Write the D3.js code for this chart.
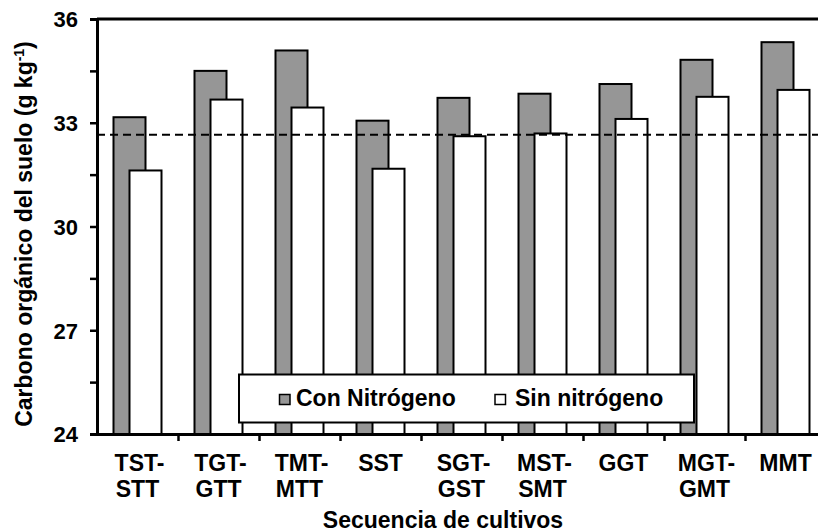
<!DOCTYPE html>
<html>
<head>
<meta charset="utf-8">
<script src="https://cdn.jsdelivr.net/npm/d3@7"></script>
<style>
  html, body { margin: 0; padding: 0; background: #fff; }
  svg { display: block; }
  text { font-family: "Liberation Sans", Arial, sans-serif; font-weight: bold; fill: #000; }
</style>
</head>
<body>
<script>
// ---- data ----
const categories = [["TST-", "STT"], ["TGT-", "GTT"], ["TMT-", "MTT"], ["SST"], ["SGT-", "GST"], ["MST-", "SMT"], ["GGT"], ["MGT-", "GMT"], ["MMT"]];
const conNitrogeno = [33.16, 34.50, 35.09, 33.06, 33.72, 33.84, 34.12, 34.82, 35.33];
const sinNitrogeno = [31.62, 33.67, 33.44, 31.67, 32.61, 32.69, 33.11, 33.75, 33.95];
const referenceLine = 32.65;
const yTickValues = [24, 27, 30, 33, 36];
const yMinorTicks = [25.5, 28.5, 31.5, 34.5];
const seriesNames = ["Con Nitrógeno", "Sin nitrógeno"];
const yTitle = "Carbono orgánico del suelo (g kg";
const xTitle = "Secuencia de cultivos";

// ---- layout ----
const W = 818, H = 531;
const mLeft = 97, mTop = 19, mBottom = 434, mRight = 826;
const grayFill = "#969696";

const svg = d3.select("body").append("svg").attr("width", W).attr("height", H);

const x = d3.scaleBand().domain(d3.range(categories.length)).range([mLeft, mRight]);
const y = d3.scaleLinear().domain([24, 36]).range([mBottom, mTop]);
const barW = 32, off = 8;

// bars
const g = svg.append("g");
g.selectAll("rect.con").data(conNitrogeno).join("rect")
  .attr("class", "con")
  .attr("x", (d, i) => x(i) + x.bandwidth() / 2 - off - barW / 2)
  .attr("y", d => y(d))
  .attr("width", barW)
  .attr("height", d => y(24) - y(d))
  .attr("fill", grayFill).attr("stroke", "#000").attr("stroke-width", 2);
g.selectAll("rect.sin").data(sinNitrogeno).join("rect")
  .attr("class", "sin")
  .attr("x", (d, i) => x(i) + x.bandwidth() / 2 + off - barW / 2)
  .attr("y", d => y(d))
  .attr("width", barW)
  .attr("height", d => y(24) - y(d))
  .attr("fill", "#fff").attr("stroke", "#000").attr("stroke-width", 2);

// dashed reference line
svg.append("line")
  .attr("x1", mLeft).attr("x2", mRight)
  .attr("y1", y(referenceLine)).attr("y2", y(referenceLine))
  .attr("stroke", "#000").attr("stroke-width", 2).attr("stroke-dasharray", "8,5");

// top frame line
svg.append("line").attr("x1", mLeft).attr("x2", mRight).attr("y1", mTop).attr("y2", mTop)
  .attr("stroke", "#000").attr("stroke-width", 3);

// y axis
const yAxis = d3.axisLeft(y).tickValues(yTickValues).tickSize(7).tickPadding(12).tickFormat(d3.format("d"));
const ya = svg.append("g").attr("transform", `translate(${mLeft},0)`).call(yAxis);
ya.select(".domain").attr("stroke-width", 3);
ya.selectAll(".tick line").attr("stroke-width", 2.5);
ya.selectAll(".tick text").attr("font-size", 22).attr("dy", "0.36em")
  .style("font-family", "'Liberation Sans', Arial, sans-serif").style("font-weight", "bold");
const yMinor = d3.axisLeft(y).tickValues(yMinorTicks).tickSize(7).tickFormat("");
const ym = svg.append("g").attr("transform", `translate(${mLeft},0)`).call(yMinor);
ym.select(".domain").remove();
ym.selectAll(".tick line").attr("stroke-width", 2.5);

// x axis
const xb = d3.scaleLinear().domain([0, categories.length]).range([mLeft, mRight]);
const xAxis = d3.axisBottom(xb).tickValues(d3.range(1, categories.length)).tickSize(7).tickFormat("");
const xa = svg.append("g").attr("transform", `translate(0,${mBottom})`).call(xAxis);
xa.select(".domain").attr("stroke-width", 3).attr("d", `M${mLeft},0.5H${mRight}`);
xa.selectAll(".tick line").attr("stroke-width", 2.5);

// x category labels
const lab = svg.append("g");
categories.forEach((lines, i) => {
  lines.forEach((t, j) => {
    lab.append("text")
      .attr("x", x(i) + x.bandwidth() / 2 + (lines.length > 1 && j === 0 ? 2 : 0))
      .attr("y", 470.5 + j * 26)
      .attr("text-anchor", "middle")
      .attr("font-size", 23)
      .text(t);
  });
});

// axis titles
svg.append("text").attr("x", 443).attr("y", 527.5).attr("text-anchor", "middle")
  .attr("font-size", 23).text(xTitle);

const yt = svg.append("text")
  .attr("transform", "translate(32,234) rotate(-90)")
  .attr("text-anchor", "middle").attr("font-size", 23);
yt.append("tspan").text(yTitle);
yt.append("tspan").attr("font-size", 14).attr("dy", -8).text("-1");
yt.append("tspan").attr("dy", 8).text(")");

// legend
const lg = svg.append("g");
lg.append("rect").attr("x", 239).attr("y", 374.5).attr("width", 455).attr("height", 48)
  .attr("fill", "#fff").attr("stroke", "#000").attr("stroke-width", 2);
const legendItems = [
  { name: seriesNames[0], fill: grayFill, sx: 279.5, tx: 296 },
  { name: seriesNames[1], fill: "#fff", sx: 495, tx: 515 }
];
legendItems.forEach(it => {
  lg.append("rect").attr("x", it.sx).attr("y", 394.5).attr("width", 10.5).attr("height", 10)
    .attr("fill", it.fill).attr("stroke", "#000").attr("stroke-width", 1.5);
  lg.append("text").attr("x", it.tx).attr("y", 405.5).attr("font-size", 23).text(it.name);
});
</script>
</body>
</html>
